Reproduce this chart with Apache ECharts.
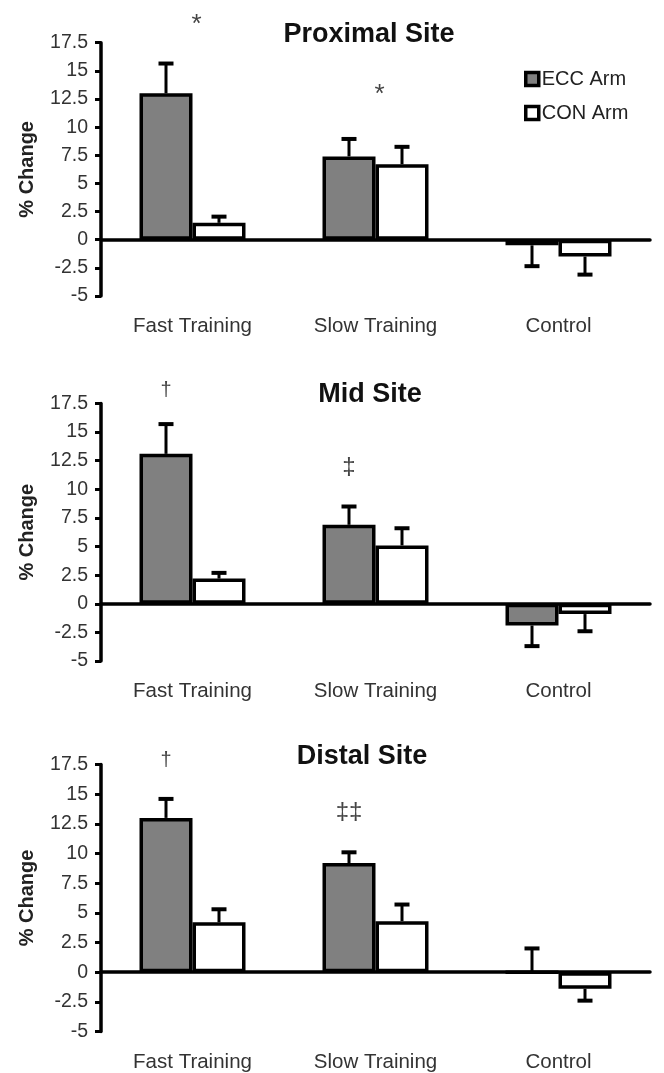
<!DOCTYPE html>
<html>
<head>
<meta charset="utf-8">
<script src="https://cdn.jsdelivr.net/npm/echarts@6/dist/echarts.min.js"></script>
<style>
  html, body { margin: 0; padding: 0; background: #fff; }
  #chart { width: 664px; height: 1073px; }
</style>
</head>
<body>
<div id="chart"></div>
<script>
// Categories shared by all three panels
const categories = ['Fast Training', 'Slow Training', 'Control'];
const siteTitles = ['Proximal Site', 'Mid Site', 'Distal Site'];
const seriesNames = ['ECC Arm', 'CON Arm'];

// Proximal site: mean % change and SEM
const proximalEcc = [13.0, 7.4, -0.5];
const proximalEccSe = [2.65, 1.55, 1.85];
const proximalCon = [1.5, 6.7, -1.5];
const proximalConSe = [0.55, 1.55, 1.6];

// Mid site
const midEcc = [13.1, 6.9, -1.9];
const midEccSe = [2.6, 1.6, 1.8];
const midCon = [2.2, 5.1, -0.9];
const midConSe = [0.5, 1.5, 1.5];

// Distal site
const distalEcc = [13.0, 9.2, 0.0];
const distalEccSe = [1.6, 0.9, 2.0];
const distalCon = [4.2, 4.3, -1.4];
const distalConSe = [1.1, 1.4, 1.0];

// Significance symbols: text, category, which bar it sits over, and level in % units
const proximalSigText = ['*', '*'];
const proximalSigCat = [0, 1];
const proximalSigBar = ['pair', 'pair'];
const proximalSigLevel = [19.7, 13.5];

const midSigText = ['\u2020', '\u2021'];
const midSigCat = [0, 1];
const midSigBar = ['ecc', 'ecc'];
const midSigLevel = [18.6, 11.9];

const distalSigText = ['\u2020', '\u2021\u2021'];
const distalSigCat = [0, 1];
const distalSigBar = ['ecc', 'ecc'];
const distalSigLevel = [17.8, 13.5];

// Y axis range
const yMin = -5;
const yMax = 17.5;
const yStep = 2.5;

const panels = [
  { ecc: proximalEcc, eccSe: proximalEccSe, con: proximalCon, conSe: proximalConSe,
    sigText: proximalSigText, sigCat: proximalSigCat, sigBar: proximalSigBar, sigLevel: proximalSigLevel },
  { ecc: midEcc, eccSe: midEccSe, con: midCon, conSe: midConSe,
    sigText: midSigText, sigCat: midSigCat, sigBar: midSigBar, sigLevel: midSigLevel },
  { ecc: distalEcc, eccSe: distalEccSe, con: distalCon, conSe: distalConSe,
    sigText: distalSigText, sigCat: distalSigCat, sigBar: distalSigBar, sigLevel: distalSigLevel }
];

// Layout
const FONT = 'Liberation Sans, Arial, Helvetica, sans-serif';
const GRID_LEFT = 101;
const GRID_WIDTH = 549;
const gridBoxes = [
  { top: 42.7, height: 253.3, titleX: 364, titleY: 16 },
  { top: 403.5, height: 257.5, titleX: 365, titleY: 376 },
  { top: 764.5, height: 267, titleX: 357, titleY: 738 }
];
const BAR_W = 53;
const CAP_W = 15;
const GRAY = '#808080';

const chart = echarts.init(document.getElementById('chart'), null, { renderer: 'canvas' });

function errorBarRenderer(side) {
  return function (params, api) {
    const ci = api.value(0);
    const mean = api.value(1);
    const se = api.value(2);
    const dir = mean >= 0 ? 1 : -1;
    const base = api.coord([ci, mean]);
    const tip = api.coord([ci, mean + dir * se]);
    const x = base[0] + side * BAR_W / 2;
    return {
      type: 'group',
      children: [
        { type: 'line', shape: { x1: x, y1: base[1], x2: x, y2: tip[1] },
          style: { stroke: '#000', lineWidth: 3 } },
        { type: 'line', shape: { x1: x - CAP_W / 2, y1: tip[1], x2: x + CAP_W / 2, y2: tip[1] },
          style: { stroke: '#000', lineWidth: 4 } }
      ]
    };
  };
}

function sigRenderer(panel) {
  return function (params, api) {
    const i = params.dataIndex;
    const p = api.coord([api.value(0), api.value(1)]);
    const bar = panel.sigBar[i];
    const x = p[0] + (bar === 'ecc' ? -BAR_W / 2 : bar === 'con' ? BAR_W / 2 : 4);
    const txt = panel.sigText[i];
    const isStar = txt === '*';
    const size = txt.charAt(0) === '\u2021' ? 24 : isStar ? 26 : 20;
    return {
      type: 'text',
      x: x,
      y: p[1] + (isStar ? 7 : 0),
      style: {
        text: txt,
        fill: '#444',
        font: size + 'px ' + FONT,
        align: 'center',
        verticalAlign: 'middle'
      }
    };
  };
}

const grid = [], xAxis = [], yAxis = [], series = [], title = [];

panels.forEach(function (panel, k) {
  const g = gridBoxes[k];
  grid.push({ left: GRID_LEFT, width: GRID_WIDTH, top: g.top, height: g.height, containLabel: false });
  title.push({
    text: siteTitles[k], left: g.titleX, top: g.titleY, textAlign: 'center',
    textStyle: { fontFamily: FONT, fontSize: 27, fontWeight: 'bold', color: '#111' }
  });
  // axis drawn along y = 0
  xAxis.push({
    type: 'category', gridIndex: k, data: categories, position: 'bottom',
    axisLine: { onZero: true, lineStyle: { color: '#000', width: 3.5 } },
    axisTick: { show: false }, axisLabel: { show: false }, splitLine: { show: false }
  });
  // category names under the plot
  xAxis.push({
    type: 'category', gridIndex: k, data: categories, position: 'bottom',
    axisLine: { show: false, onZero: false }, axisTick: { show: false }, splitLine: { show: false },
    axisLabel: { margin: 20, fontFamily: FONT, fontSize: 20.5, color: '#333' }
  });
  yAxis.push({
    type: 'value', gridIndex: k, min: yMin, max: yMax, interval: yStep,
    name: '% Change', nameLocation: 'middle', nameGap: 64, nameRotate: 90,
    nameTextStyle: { fontFamily: FONT, fontSize: 20, fontWeight: 'bold', color: '#222' },
    axisLine: { show: true, lineStyle: { color: '#000', width: 3.5 } },
    axisTick: { show: true, inside: false, length: 6, lineStyle: { color: '#000', width: 3 } },
    axisLabel: { margin: 13, fontFamily: FONT, fontSize: 19.5, color: '#333' },
    splitLine: { show: false }
  });
  const xi = k * 2;
  series.push({
    name: seriesNames[0], type: 'bar', xAxisIndex: xi, yAxisIndex: k,
    data: panel.ecc, barWidth: BAR_W, barGap: '0%',
    itemStyle: { color: GRAY, borderColor: '#000', borderWidth: 3.5 }
  });
  series.push({
    name: seriesNames[1], type: 'bar', xAxisIndex: xi, yAxisIndex: k,
    data: panel.con, barWidth: BAR_W, barGap: '0%',
    itemStyle: { color: '#fff', borderColor: '#000', borderWidth: 3.5 }
  });
  series.push({
    type: 'custom', xAxisIndex: xi, yAxisIndex: k, z: 3,
    renderItem: errorBarRenderer(-1),
    data: panel.ecc.map(function (v, i) { return [i, v, panel.eccSe[i]]; })
  });
  series.push({
    type: 'custom', xAxisIndex: xi, yAxisIndex: k, z: 3,
    renderItem: errorBarRenderer(1),
    data: panel.con.map(function (v, i) { return [i, v, panel.conSe[i]]; })
  });
  series.push({
    type: 'custom', xAxisIndex: xi, yAxisIndex: k, z: 4, clip: false,
    renderItem: sigRenderer(panel),
    data: panel.sigCat.map(function (c, i) { return [c, panel.sigLevel[i]]; })
  });
});

chart.setOption({
  animation: false,
  backgroundColor: '#fff',
  title: title,
  legend: {
    data: seriesNames, orient: 'vertical', left: 519, top: 64,
    icon: 'rect', itemWidth: 13, itemHeight: 13, itemGap: 14,
    itemStyle: { borderColor: '#000', borderWidth: 3.5 },
    textStyle: { fontFamily: FONT, fontSize: 20, color: '#222', padding: [0, 0, 0, -2] }
  },
  grid: grid,
  xAxis: xAxis,
  yAxis: yAxis,
  series: series
});
</script>
</body>
</html>
